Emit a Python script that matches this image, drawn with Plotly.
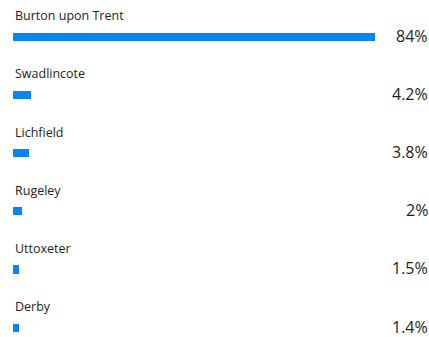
import plotly.graph_objects as go

towns = ["Burton upon Trent", "Swadlincote", "Lichfield", "Rugeley", "Uttoxeter", "Derby"]
shares = [84, 4.2, 3.8, 2, 1.5, 1.4]
value_labels = ["84%", "4.2%", "3.8%", "2%", "1.5%", "1.4%"]

idx = list(range(len(towns)))
fig = go.Figure()
fig.add_trace(go.Bar(
    x=shares, y=idx, orientation="h", width=0.14,
    marker=dict(color="#0A84F0", line=dict(width=0)),
    hoverinfo="skip",
))

for i, (t, v) in enumerate(zip(towns, value_labels)):
    fig.add_annotation(x=0, y=i - 0.36, xref="x", yref="y", text=t,
                       showarrow=False, xanchor="left", yanchor="middle",
                       font=dict(family="Open Sans, Segoe UI, sans-serif", size=12.5, color="#252423"))
    fig.add_annotation(x=1, y=i, xref="paper", yref="y", text=v,
                       showarrow=False, xanchor="right", yanchor="middle",
                       xshift=13, yshift=1, borderpad=0,
                       font=dict(family="Open Sans, Segoe UI, sans-serif", size=16, color="#201F1E"))

fig.update_layout(
    width=429, height=337,
    margin=dict(l=13, r=13, t=0, b=0),
    paper_bgcolor="white", plot_bgcolor="white",
    showlegend=False, bargap=0,
    xaxis=dict(range=[0, 93.5], visible=False, fixedrange=True),
    yaxis=dict(range=[5.16, -0.63], visible=False, fixedrange=True),
)
fig.write_html("out.html")
